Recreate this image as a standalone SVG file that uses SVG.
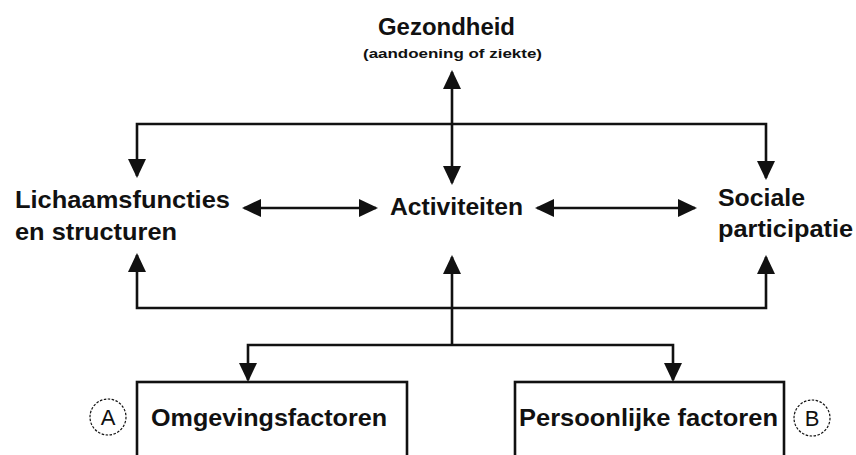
<svg xmlns="http://www.w3.org/2000/svg" width="856" height="455" viewBox="0 0 856 455">
<style>
.t{font-family:"Liberation Sans",Arial,sans-serif;font-weight:bold;fill:#111;}
.lbl{font-size:24px;}
.sub{font-size:13px;}
.conn{fill:none;stroke:#111;stroke-width:2.6;}
.box{fill:#fff;stroke:#111;stroke-width:2.6;}
.circ{fill:none;stroke:#111;stroke-width:1.2;stroke-dasharray:2.5,1.5;}
.let{font-family:"Liberation Sans",Arial,sans-serif;font-size:22px;fill:#111;text-anchor:middle;}
</style>
<defs>
<marker id="ah" markerUnits="userSpaceOnUse" markerWidth="20" markerHeight="20" viewBox="0 0 20 20" refX="17" refY="9" orient="auto-start-reverse">
<path d="M0,0 L19,9 L0,18 z" fill="#111"/>
</marker>
</defs>
<rect width="856" height="455" fill="#fff"/>
<g id="connectors">
<path class="conn" d="M452,72 V183" marker-start="url(#ah)" marker-end="url(#ah)"/>
<path class="conn" d="M137,176 V124 H766 V178" marker-start="url(#ah)" marker-end="url(#ah)"/>
<path class="conn" d="M244,208 H376" marker-start="url(#ah)" marker-end="url(#ah)"/>
<path class="conn" d="M537,208 H695" marker-start="url(#ah)" marker-end="url(#ah)"/>
<path class="conn" d="M137,255 V308 H766 V257" marker-start="url(#ah)" marker-end="url(#ah)"/>
<path class="conn" d="M452,257 V345" marker-start="url(#ah)"/>
<path class="conn" d="M248,380 V345 H673 V380" marker-start="url(#ah)" marker-end="url(#ah)"/>
</g>
<g id="gezondheid">
<text class="t lbl" x="378" y="35" textLength="137" lengthAdjust="spacingAndGlyphs">Gezondheid</text>
<text class="t sub" x="363" y="58" textLength="179" lengthAdjust="spacingAndGlyphs">(aandoening of ziekte)</text>
</g>
<g id="lichaamsfuncties">
<text class="t lbl" x="15" y="208" textLength="215" lengthAdjust="spacingAndGlyphs">Lichaamsfuncties</text>
<text class="t lbl" x="15" y="240" textLength="162" lengthAdjust="spacingAndGlyphs">en structuren</text>
</g>
<g id="activiteiten">
<text class="t lbl" x="390" y="215" textLength="133" lengthAdjust="spacingAndGlyphs">Activiteiten</text>
</g>
<g id="sociale-participatie">
<text class="t lbl" x="718" y="206" textLength="87" lengthAdjust="spacingAndGlyphs">Sociale</text>
<text class="t lbl" x="718" y="237" textLength="135" lengthAdjust="spacingAndGlyphs">participatie</text>
</g>
<g id="omgevingsfactoren">
<rect class="box" x="137" y="382" width="270" height="90"/>
<text class="t lbl" x="151" y="426" textLength="236" lengthAdjust="spacingAndGlyphs">Omgevingsfactoren</text>
<circle class="circ" cx="108" cy="417" r="18"/>
<text class="let" x="108" y="425">A</text>
</g>
<g id="persoonlijke-factoren">
<rect class="box" x="515" y="382" width="269" height="90"/>
<text class="t lbl" x="519" y="426" textLength="259" lengthAdjust="spacingAndGlyphs">Persoonlijke factoren</text>
<circle class="circ" cx="812" cy="418" r="18"/>
<text class="let" x="812" y="426">B</text>
</g>
</svg>
